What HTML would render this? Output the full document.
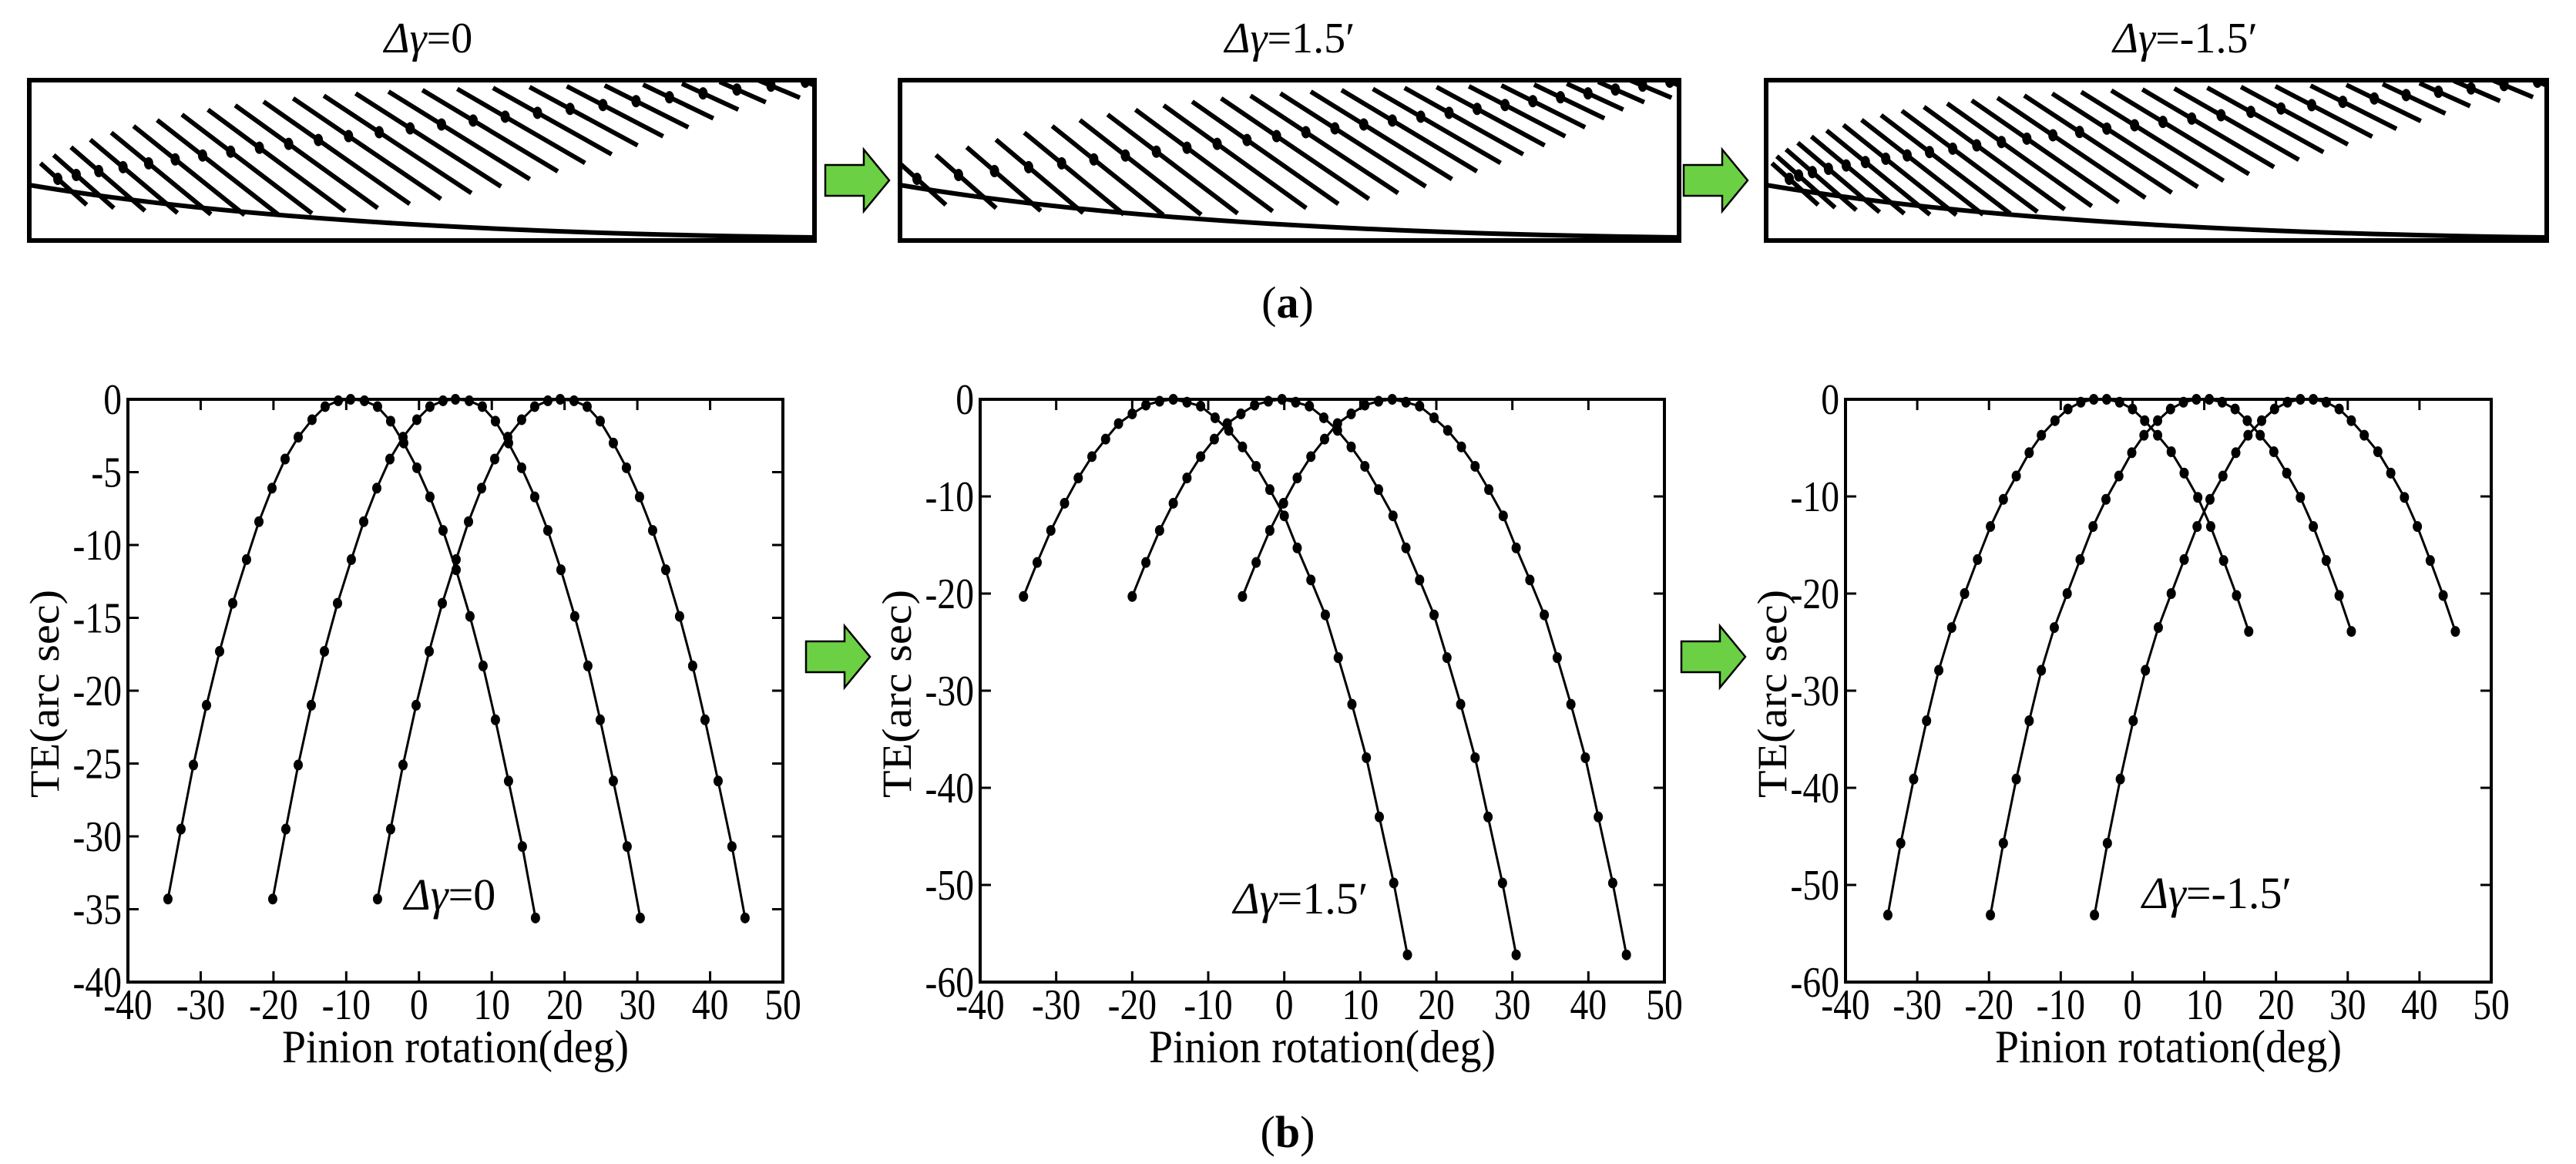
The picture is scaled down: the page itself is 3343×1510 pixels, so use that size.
<!DOCTYPE html>
<html><head><meta charset="utf-8"><style>
html,body{margin:0;padding:0;background:#fff;}
svg{display:block;font-family:"Liberation Serif",serif;}
</style></head><body>
<svg id="fig" width="3343" height="1510" viewBox="0 0 3343 1510" xmlns="http://www.w3.org/2000/svg">
<defs id="defs"></defs>
<g id="top"></g>
<g id="charts"></g>
<text x="1671" y="412" font-size="58" text-anchor="middle">(<tspan font-weight="bold">a</tspan>)</text>
<text x="1671" y="1488" font-size="58" text-anchor="middle">(<tspan font-weight="bold">b</tspan>)</text>
</svg>
<script>
// ---- chart data ----
const xTicks = [-40,-30,-20,-10,0,10,20,30,40,50];
const yTicks1 = [0,-5,-10,-15,-20,-25,-30,-35,-40];
const yTicks2 = [0,-10,-20,-30,-40,-50,-60];
const yTicks3 = [0,-10,-20,-30,-40,-50,-60];
const baseX1 = [-34.5,-32.7,-31.0,-29.2,-27.4,-25.6,-23.7,-22.0,-20.2,-18.4,-16.6,-14.7,-12.9,-11.1,-9.4,-7.5,-5.7,-3.9,-2.1,-0.3,1.5,3.3,5.1,7.0,8.8,10.5,12.3,14.2,16.0];
const te1 = [-34.3,-29.5,-25.1,-21.0,-17.3,-14.0,-11.0,-8.4,-6.1,-4.1,-2.6,-1.4,-0.5,-0.1,0,-0.1,-0.5,-1.5,-3.0,-4.7,-6.7,-9.0,-11.7,-14.9,-18.3,-22.0,-26.2,-30.7,-35.6];
const offsets1 = [0,14.4,28.8];
const baseX2 = [-34.3,-32.5,-30.7,-28.9,-27.1,-25.3,-23.5,-21.8,-20.0,-18.2,-16.4,-14.6,-12.8,-11.0,-9.1,-7.3,-5.5,-3.7,-1.9,0.0,1.7,3.5,5.4,7.1,8.9,10.8,12.5,14.4,16.2];
const te2 = [-20.3,-16.8,-13.5,-10.7,-8.1,-5.9,-4.1,-2.5,-1.5,-0.6,-0.2,0,-0.3,-0.7,-1.9,-3.2,-4.9,-6.9,-9.3,-12.0,-15.3,-18.6,-22.2,-26.6,-31.4,-36.9,-43.0,-49.8,-57.2];
const offsets2 = [0,14.3,28.8];
const baseX3 = [-34.1,-32.3,-30.5,-28.7,-27.0,-25.2,-23.4,-21.6,-19.8,-18.0,-16.2,-14.4,-12.7,-10.8,-9.0,-7.2,-5.4,-3.6,-1.8,0.0,1.7,3.5,5.4,7.2,9.1,10.9,12.7,14.5,16.2];
const te3 = [-53.1,-45.7,-39.1,-33.1,-27.9,-23.5,-20.0,-16.5,-13.1,-10.3,-7.9,-5.5,-3.7,-2.2,-1.0,-0.3,0,0,-0.3,-1.0,-2.2,-3.7,-5.4,-7.6,-10.1,-13.1,-16.6,-20.2,-23.9];
const offsets3 = [0,14.3,28.8];
const chartLabels = ["Δγ=0","Δγ=1.5′","Δγ=-1.5′"];

const NS="http://www.w3.org/2000/svg";
function mk(tag,attrs,parent){const e=document.createElementNS(NS,tag);for(const k in attrs)e.setAttribute(k,attrs[k]);parent.appendChild(e);return e;}

const charts = [
 {L:166,R:1016,T:518,B:1274,ymin:-40,yt:yTicks1,bx:baseX1,te:te1,off:offsets1,ylc:58,lab:[584,1180]},
 {L:1272,R:2160,T:518,B:1274,ymin:-60,yt:yTicks2,bx:baseX2,te:te2,off:offsets2,ylc:1164,lab:[1688,1185]},
 {L:2395,R:3233,T:518,B:1274,ymin:-60,yt:yTicks3,bx:baseX3,te:te3,off:offsets3,ylc:2300,lab:[2877,1178]}
];
const cg=document.getElementById('charts');
charts.forEach((c,ci)=>{
  const g=mk('g',{},cg);
  
  
  const xs=v=>c.L+(v+40)/90*(c.R-c.L);
  const ys=v=>c.T+(0-v)/(0-c.ymin)*(c.B-c.T);
  const frame=mk('rect',{x:c.L,y:c.T,width:c.R-c.L,height:c.B-c.T,fill:'none',stroke:'#000','stroke-width':4},g);
  
  
  xTicks.forEach(t=>{
    const x=xs(t);
    mk('line',{x1:x,y1:c.B,x2:x,y2:c.B-14,stroke:'#000','stroke-width':3},g);
    mk('line',{x1:x,y1:c.T,x2:x,y2:c.T+14,stroke:'#000','stroke-width':3},g);
    const tx=mk('text',{x:0,y:0,'font-size':56,'text-anchor':'middle',transform:`translate(${x},${c.B+48}) scale(0.85,1)`},g);
    tx.textContent=t;
    
    
  });
  c.yt.forEach(t=>{
    const y=ys(t);
    mk('line',{x1:c.L,y1:y,x2:c.L+14,y2:y,stroke:'#000','stroke-width':3},g);
    mk('line',{x1:c.R,y1:y,x2:c.R-14,y2:y,stroke:'#000','stroke-width':3},g);
    const tx=mk('text',{x:0,y:0,'font-size':56,'text-anchor':'end',transform:`translate(${c.L-8},${y+19}) scale(0.85,1)`},g);
    tx.textContent=t;
    
    
  });
  c.off.forEach((o,si)=>{
    const pts=c.bx.map((x,i)=>xs(x+o).toFixed(1)+','+ys(c.te[i]).toFixed(1)).join(' ');
    const pl=mk('polyline',{points:pts,fill:'none',stroke:'#000','stroke-width':3},g);
    
    
    c.bx.forEach((x,i)=>{
      const d=mk('ellipse',{cx:xs(x+o),cy:ys(c.te[i]),rx:6,ry:7,fill:'#000'},g);
      
      
    });
  });
  const xl=mk('text',{x:(c.L+c.R)/2,y:1378,'font-size':60,'text-anchor':'middle',textLength:450,lengthAdjust:'spacingAndGlyphs'},g);
  xl.textContent='Pinion rotation(deg)';
  
  
  const yl=mk('text',{x:0,y:0,'font-size':54,'text-anchor':'middle',textLength:270,lengthAdjust:'spacingAndGlyphs',transform:`translate(${c.ylc+18},900) rotate(-90)`},g);
  yl.textContent='TE(arc sec)';
  
  
  const lb=mk('text',{x:c.lab[0],y:c.lab[1],'font-size':58,'text-anchor':'middle'},g);
  lb.innerHTML='<tspan font-style="italic">Δγ</tspan>'+chartLabels[ci].slice(2);
  
  
});

// ---- arrows ----
function arrow(x,y,parent,name){
  const p=mk('path',{d:`M${x} ${y+20} h50 v-20 l33 40 l-33 40 v-20 h-50 z`,fill:'#6cd044',stroke:'#000','stroke-width':2.5},parent);
  
  
}
const tg=document.getElementById('top');
arrow(1071,194,tg,'arrow-top-1');
arrow(2185,194,tg,'arrow-top-2');
arrow(1046,812,cg,'arrow-bottom-1');
arrow(2182,812,cg,'arrow-bottom-2');

// ---- top contact panels (illustration) ----
const defs=document.getElementById('defs');
const boxes=[[38,1057],[1168,2179],[2292,3305]];
const titles=["Δγ=0","Δγ=1.5′","Δγ=-1.5′"];
const titleX=[556,1674,2836];
const startX=[75,1190,2322];
boxes.forEach((b,bi)=>{
  const g=mk('g',{},tg);
  
  
  const T=104,B=312,L=b[0],R=b[1],W=R-L;
  const cp=mk('clipPath',{id:'clip'+bi},defs);
  mk('rect',{x:L,y:T,width:W,height:B-T},cp);
  const inner=mk('g',{'clip-path':`url(#clip${bi})`},g);
  const n=bi===2?30:26;
  const x0=startX[bi], x1=R-12;
  for(let i=0;i<n;i++){
    const f=i/(n-1);
    const fx=bi===2?Math.pow(f,1.3):bi===1?Math.pow(f,0.9):Math.pow(f,1.15);
    const cx=x0+(x1-x0)*fx, cy=T+128-(128-2)*f;
    const len=50+110*Math.sin(Math.PI*Math.min(1,f*1.1))*(f<0.95?1:0.4);
    const sl=0.9-0.5*f;
    const s=mk('line',{x1:cx-len*0.45,y1:cy-len*0.45*sl,x2:cx+len*0.75,y2:cy+len*0.75*sl,stroke:'#000','stroke-width':6},inner);
    
    
    const d=mk('ellipse',{cx:cx,cy:cy,rx:6,ry:8,fill:'#000'},inner);
    
    
  }
  const cv=mk('path',{d:`M${L} ${T+136} Q${L+W*0.35} ${B-12} ${R} ${B-4}`,fill:'none',stroke:'#000','stroke-width':6},g);
  
  
  const r=mk('rect',{x:L,y:T,width:W,height:B-T,fill:'none',stroke:'#000','stroke-width':6},g);
  
  
  const t=mk('text',{x:titleX[bi],y:68,'font-size':56,'text-anchor':'middle'},g);
  t.innerHTML='<tspan font-style="italic">Δγ</tspan>'+titles[bi].slice(2);
  
  
});
</script>
</body></html>
